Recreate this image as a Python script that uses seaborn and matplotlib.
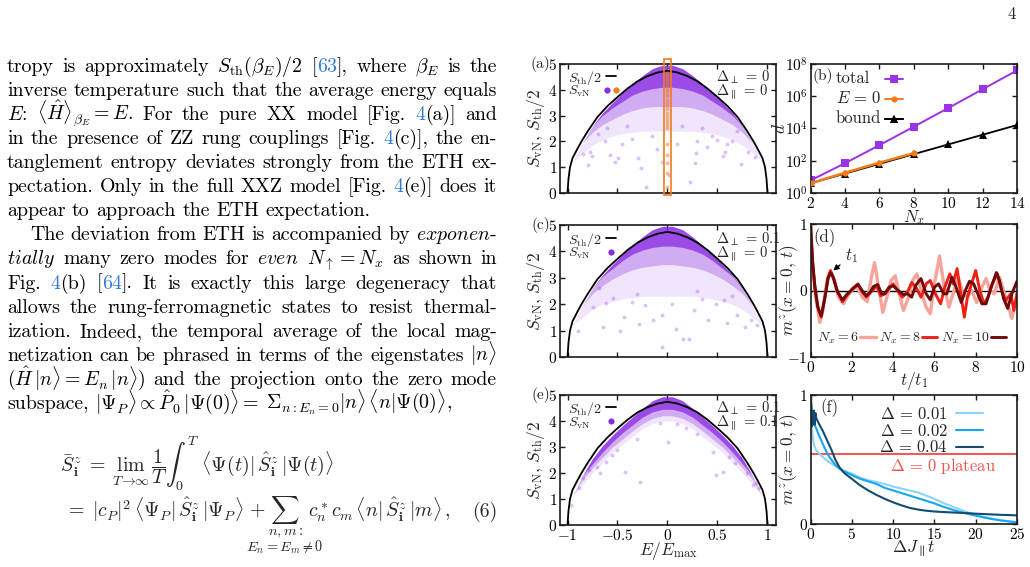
"""
page fragment: text column on the left, six entanglement / dynamics panels on the right
"""

import matplotlib
matplotlib.use("Agg")
import matplotlib.pyplot as plt
import seaborn as sns
from matplotlib.lines import Line2D
from matplotlib.patches import Rectangle
from matplotlib.legend_handler import HandlerTuple

# ---------------- data ----------------
# thermal curve S_th/2 vs E/E_max (same in a, c, e)
E_th = [-1.0, -0.99, -0.975, -0.95, -0.9, -0.86, -0.8, -0.7, -0.6, -0.5, -0.4, -0.3, -0.2, -0.1, 0.0,
        0.1, 0.2, 0.3, 0.4, 0.5, 0.6, 0.7, 0.8, 0.86, 0.9, 0.95, 0.975, 0.99, 1.0]
S_th = [0.0, 0.55, 1.0, 1.35, 1.72, 2.0, 2.38, 2.95, 3.37, 3.72, 4.05, 4.33, 4.53, 4.67, 4.74,
        4.67, 4.53, 4.33, 4.05, 3.72, 3.37, 2.95, 2.38, 2.0, 1.72, 1.35, 1.0, 0.55, 0.0]

# eigenstate clouds: top edge and lower edges of the light / medium / dense parts
E_band = [-0.95, -0.85, -0.75, -0.65, -0.55, -0.45, -0.35, -0.25, -0.15, -0.05,
          0.05, 0.15, 0.25, 0.35, 0.45, 0.55, 0.65, 0.75, 0.85, 0.95]
top_a = [1.2, 1.95, 2.6, 3.1, 3.5, 3.88, 4.22, 4.55, 4.82, 4.95, 4.95, 4.82, 4.55, 4.22, 3.88, 3.5, 3.1, 2.6, 1.95, 1.2]
light_a = [1.2, 1.55, 1.85, 2.05, 2.2, 2.3, 2.35, 2.4, 2.4, 2.4, 2.4, 2.4, 2.4, 2.35, 2.3, 2.2, 2.05, 1.85, 1.55, 1.2]
mid_a = [1.2, 1.95, 2.35, 2.65, 2.85, 3.05, 3.2, 3.3, 3.35, 3.35, 3.35, 3.35, 3.3, 3.2, 3.05, 2.85, 2.65, 2.35, 1.95, 1.2]
dense_a = [1.2, 1.95, 2.6, 3.0, 3.3, 3.55, 3.8, 3.95, 4.05, 4.1, 4.1, 4.05, 3.95, 3.8, 3.55, 3.3, 3.0, 2.6, 1.95, 1.2]

top_c = [1.2, 1.95, 2.6, 3.1, 3.5, 3.88, 4.22, 4.55, 4.82, 4.95, 4.95, 4.82, 4.55, 4.22, 3.88, 3.5, 3.1, 2.6, 1.95, 1.2]
light_c = [1.2, 1.5, 1.8, 2.0, 2.1, 2.2, 2.25, 2.3, 2.3, 2.3, 2.3, 2.3, 2.3, 2.25, 2.2, 2.1, 2.0, 1.8, 1.5, 1.2]
mid_c = [1.2, 1.95, 2.4, 2.7, 2.95, 3.15, 3.3, 3.4, 3.45, 3.5, 3.5, 3.45, 3.4, 3.3, 3.15, 2.95, 2.7, 2.4, 1.95, 1.2]
dense_c = [1.2, 1.95, 2.6, 3.05, 3.35, 3.65, 3.9, 4.05, 4.15, 4.2, 4.2, 4.15, 4.05, 3.9, 3.65, 3.35, 3.05, 2.6, 1.95, 1.2]

top_e = [1.1, 1.9, 2.55, 3.05, 3.45, 3.82, 4.15, 4.48, 4.78, 4.93, 4.93, 4.78, 4.48, 4.15, 3.82, 3.45, 3.05, 2.55, 1.9, 1.1]
light_e = [1.1, 1.55, 2.0, 2.4, 2.8, 3.1, 3.4, 3.7, 3.9, 4.0, 4.0, 3.9, 3.7, 3.4, 3.1, 2.8, 2.4, 2.0, 1.55, 1.1]
mid_e = [1.1, 1.75, 2.2, 2.6, 3.0, 3.3, 3.62, 3.9, 4.1, 4.2, 4.2, 4.1, 3.9, 3.62, 3.3, 3.0, 2.6, 2.2, 1.75, 1.1]
dense_e = [1.1, 1.9, 2.35, 2.8, 3.2, 3.55, 3.85, 4.15, 4.35, 4.45, 4.45, 4.35, 4.15, 3.85, 3.55, 3.2, 2.8, 2.35, 1.9, 1.1]

# sparse eigenstates below the clouds
sparse_a_E = [-0.78, -0.80, -0.575, -0.52, -0.49, -0.29, -0.26, -0.21, 0.225, 0.285, 0.275, 0.56, 0.575, 0.74,
              0.81, -0.76, -0.62, -0.45, -0.35, -0.1, 0.1, 0.4, 0.5, 0.65, -0.7, 0.7, -0.15, 0.15, -0.4, 0.35,
              0.6, -0.6, 0.02, -0.05, 0.45, -0.85, 0.88, 0.3]
sparse_a_S = [1.6, 1.08, 1.47, 1.22, 1.34, 1.34, 0.95, 0.25, 0.41, 1.54, 1.15, 1.43, 1.6, 1.12,
              1.6, 1.43, 2.0, 1.9, 2.1, 1.7, 1.9, 1.8, 2.05, 2.0, 2.3, 2.4, 2.2, 2.6, 2.6, 2.5,
              1.9, 2.5, 0.7, 1.2, 2.2, 1.5, 1.4, 2.0]
sparse_c_E = [-0.61, -0.54, -0.43, -0.28, -0.22, -0.14, -0.055, 0.16, 0.27, 0.41, 0.49, 0.57, 0.78, 0.84,
              -0.64, -0.475, 0.09, 0.22, -0.75, -0.35, 0.35, 0.65, -0.05, 0.05, -0.3, 0.3, 0.7, -0.68,
              0.6, -0.9, 0.9]
sparse_c_S = [2.03, 2.22, 1.52, 1.26, 1.96, 1.39, 0.38, 0.7, 1.77, 1.39, 2.02, 2.15, 1.14, 1.39,
              1.13, 1.0, 1.07, 0.7, 1.9, 2.1, 2.2, 2.3, 1.6, 2.0, 2.4, 2.5, 1.6, 2.6,
              1.3, 1.0, 1.2]
sparse_e_E = [-0.79, -0.71, -0.675, -0.425, -0.275, -0.075, 0.008, 0.19, 0.49, 0.555, 0.74, 0.86, 0.89, 0.92,
              -0.97, -0.89, -0.61, 0.46, -0.5, 0.3, 0.62, -0.85, 0.8, -0.3, 0.1, -0.55, 0.68]
sparse_e_S = [2.12, 2.24, 1.99, 2.05, 1.67, 3.91, 3.2, 3.72, 1.92, 2.05, 2.56, 1.54, 1.6, 1.41,
              0.77, 1.41, 2.44, 2.82, 2.9, 3.5, 2.6, 1.8, 2.0, 3.3, 3.9, 2.7, 2.4]

# zero-energy states in (a)
zero_E = [0.0, 0.0, 0.0, 0.0, 0.0, 0.0, 0.0, 0.0, 0.0, 0.0, 0.0, 0.0, 0.0, 0.0, 0.0, 0.0, 0.0, 0.0, 0.0, 0.0,
          0.0, 0.0, 0.0, 0.0, 0.0, 0.0, 0.0]
zero_S = [4.75, 4.66, 4.58, 4.5, 4.42, 4.34, 4.25, 4.15, 4.05, 3.95, 3.85, 3.75, 3.62, 3.5, 3.38, 3.25, 3.12,
          3.0, 2.88, 2.75, 2.62, 2.5, 1.9, 1.47, 1.15, 0.76, 0.25]

# (b) dimensions
Nx = [2, 4, 6, 8, 10, 12, 14]
d_total = [6, 70, 924, 12870, 184756, 2704156, 40116600]
Nx_e0 = [2, 4, 6, 8]
d_e0 = [4, 18, 76, 294]
d_bound = [4, 16, 64, 256, 1024, 4096, 16384]

# (d) m^z(x=0,t) vs t/t1, extrema of the traces
t6 = [0, 0.1, 0.25, 0.45, 0.6, 0.8, 0.97, 1.15, 1.35, 1.6, 1.8, 2.0, 2.25, 2.5, 2.75, 2.95, 3.1, 3.3, 3.5,
      3.7, 3.9, 4.1, 4.3, 4.5, 4.75, 4.95, 5.15, 5.4, 5.6, 5.8, 6.0, 6.25, 6.45, 6.7, 6.9, 7.15, 7.35, 7.6,
      7.8, 8.05, 8.3, 8.5, 8.7, 8.9, 9.15, 9.35, 9.55, 9.75, 9.9, 10.0]
m6 = [1.0, 0.4, -0.1, -0.48, -0.3, 0.15, 0.27, 0.15, -0.1, -0.2, -0.08, 0.0, 0.06, -0.1, -0.17, 0.2, 0.42,
      0.05, -0.33, -0.1, 0.15, 0.22, -0.05, -0.3, -0.1, 0.15, 0.25, -0.05, -0.25, -0.35, 0.1, 0.52, 0.1,
      -0.25, -0.05, 0.2, 0.0, -0.1, 0.0, -0.18, 0.05, 0.18, 0.0, -0.05, 0.2, 0.0, -0.2, -0.42, -0.2, -0.05]
t8 = [0, 0.1, 0.22, 0.4, 0.52, 0.7, 0.85, 0.97, 1.1, 1.3, 1.55, 1.75, 2.0, 2.3, 2.5, 2.7, 3.0, 3.2, 3.4,
      3.6, 3.8, 4.0, 4.25, 4.45, 4.7, 4.9, 5.1, 5.35, 5.6, 5.8, 6.05, 6.3, 6.5, 6.75, 6.9, 7.1, 7.25, 7.45,
      7.6, 7.8, 8.0, 8.2, 8.4, 8.6, 8.8, 9.05, 9.25, 9.45, 9.7, 9.85, 10.0]
m8 = [1.0, 0.42, 0.0, -0.3, -0.4, -0.1, 0.2, 0.3, 0.2, 0.0, -0.17, -0.08, 0.02, 0.1, -0.02, -0.1, 0.0,
      0.07, -0.08, -0.05, 0.02, 0.1, -0.02, -0.1, -0.02, 0.12, 0.05, -0.1, 0.1, 0.15, -0.05, -0.2, 0.05,
      0.25, 0.1, 0.33, 0.0, -0.4, -0.1, 0.1, 0.3, 0.0, -0.2, -0.1, 0.1, 0.25, 0.0, -0.15, -0.05, -0.3, -0.05]
t10 = [0, 0.1, 0.2, 0.35, 0.52, 0.7, 0.85, 0.97, 1.1, 1.3, 1.55, 1.75, 1.9, 2.1, 2.3, 2.5, 2.7, 2.9, 3.05,
       3.25, 3.45, 3.6, 3.8, 4.0, 4.25, 4.5, 4.7, 4.9, 5.1, 5.35, 5.6, 5.8, 6.0, 6.2, 6.45, 6.6, 6.85, 7.05,
       7.3, 7.5, 7.7, 7.9, 8.1, 8.3, 8.5, 8.75, 9.0, 9.15, 9.35, 9.55, 9.75, 10.0]
m10 = [1.0, 0.45, 0.1, -0.25, -0.38, -0.1, 0.18, 0.27, 0.2, -0.02, -0.14, -0.06, -0.02, 0.04, 0.09, 0.0,
       -0.08, -0.02, 0.06, 0.09, -0.05, -0.05, 0.05, 0.07, 0.0, -0.06, -0.05, -0.1, 0.08, 0.18, -0.05,
       -0.14, 0.05, 0.1, -0.05, -0.05, 0.2, 0.05, -0.18, 0.0, 0.14, 0.1, -0.05, -0.2, -0.2, 0.05, 0.27,
       0.15, -0.12, -0.27, -0.05, 0.14]

# (f) decay of m^z for three anisotropies
tf_004 = [0, 0.1, 0.2, 0.3, 0.4, 0.5, 0.6, 0.7, 0.85, 1, 1.5, 2, 2.5, 3, 3.5, 4, 5, 6, 7, 8, 9, 10, 11, 12,
          13, 14, 15, 16, 17, 18, 19, 20, 21, 22, 23, 24, 25]
mf_004 = [1.0, 0.93, 0.76, 0.86, 0.88, 0.77, 0.86, 0.82, 0.8, 0.78, 0.72, 0.65, 0.58, 0.5, 0.44, 0.4,
          0.35, 0.3, 0.26, 0.225, 0.195, 0.168, 0.145, 0.125, 0.112, 0.103, 0.097, 0.093, 0.09, 0.087,
          0.084, 0.08, 0.077, 0.074, 0.071, 0.069, 0.067]
tf_002 = [0, 0.1, 0.2, 0.3, 0.4, 0.5, 0.7, 1, 1.5, 2, 2.5, 3, 3.5, 4, 5, 6, 7, 8, 9, 10, 11, 12, 13, 14,
          15, 16, 17, 18, 19, 20, 21, 22, 23, 24, 25]
mf_002 = [1.0, 0.9, 0.8, 0.85, 0.79, 0.77, 0.74, 0.69, 0.62, 0.55, 0.5, 0.46, 0.43, 0.41, 0.38, 0.35,
          0.33, 0.31, 0.28, 0.26, 0.24, 0.22, 0.2, 0.18, 0.16, 0.135, 0.115, 0.095, 0.08, 0.065, 0.05,
          0.038, 0.028, 0.02, 0.014]
tf_001 = [0, 0.1, 0.2, 0.3, 0.4, 0.5, 0.7, 1, 1.5, 2, 2.5, 3, 3.5, 4, 5, 6, 7, 8, 9, 10, 11, 12, 13, 14,
          15, 16, 17, 18, 19, 20, 21, 22, 23, 24, 25]
mf_001 = [1.0, 0.85, 0.72, 0.66, 0.62, 0.6, 0.57, 0.55, 0.52, 0.49, 0.47, 0.45, 0.43, 0.415, 0.39, 0.36,
          0.34, 0.325, 0.31, 0.29, 0.275, 0.26, 0.245, 0.22, 0.195, 0.165, 0.14, 0.115, 0.09, 0.07, 0.055,
          0.042, 0.03, 0.02, 0.013]
plateau = 0.54

PURPLE = "#8a2be2"
LINE_PURPLE = "#9a32e6"
ORANGE = "#f07d1a"
BLUE_REF = "#2e7bd6"
PINK, RED, DARKRED = "#f6a39b", "#ee2015", "#6e0b0b"
SKY1, SKY2, SKY3 = "#8dd3f6", "#16a6ee", "#134c70"
PLATEAU_RED = "#f0564e"

# ---------------- style ----------------
sns.set_theme(style="ticks")
plt.rcParams["font.family"] = "cmr10"
plt.rcParams["mathtext.fontset"] = "cm"
plt.rcParams["axes.formatter.use_mathtext"] = True
plt.rcParams["axes.edgecolor"] = "#1a1a1a"
plt.rcParams["axes.linewidth"] = 1.2

W, H = 1030, 567
fig = plt.figure(figsize=(W / 100, H / 100), dpi=100)
fig.patch.set_facecolor("white")

TICK = 11
LAB = 12.5
LEG = 11.5


def rect(l, t, r, b):
    return [l / W, 1 - b / H, (r - l) / W, (b - t) / H]


def style_axis(ax):
    ax.tick_params(direction="in", top=True, right=True, length=3.5, width=1,
                   labelsize=TICK, pad=2, colors="#1a1a1a", labelcolor="black")
    ax.minorticks_off()


def place_ylabel(ax, text, x):
    ax.set_ylabel(text, fontsize=LAB)
    ax.yaxis.set_label_coords(x, 0.5)
    ax.yaxis.label.set_va("center")


def place_xlabel(ax, text, y):
    ax.set_xlabel(text, fontsize=LAB)
    ax.xaxis.set_label_coords(0.5, y)
    ax.xaxis.label.set_va("center")


def key(ax, handle, x, y, length, size):
    # one legend key (no text) whose left edge sits at axes point (x, y)
    leg = ax.legend([handle], [""], loc="center left", bbox_to_anchor=(x, y), frameon=False,
                    handlelength=length, handletextpad=0, borderpad=0, borderaxespad=0, fontsize=size,
                    handler_map={tuple: HandlerTuple(ndivide=None, pad=0.35)})
    ax.add_artist(leg)


# ---------------- entropy panels ----------------
def entropy_panel(ax, top, light, mid, dense, sp_E, sp_S, tag, dperp, dpar, with_zero=False):
    ax.fill_between(E_band, light, top, color=PURPLE, alpha=0.12, lw=0)
    ax.fill_between(E_band, mid, top, color=PURPLE, alpha=0.3, lw=0)
    ax.fill_between(E_band, dense, top, color=PURPLE, alpha=0.75, lw=0)
    sns.scatterplot(x=sp_E, y=sp_S, ax=ax, color=PURPLE, alpha=0.28, s=8, linewidth=0, legend=False)
    if with_zero:
        sns.scatterplot(x=zero_E, y=zero_S, ax=ax, color=ORANGE, alpha=0.5, s=8, linewidth=0, legend=False)
    sns.lineplot(x=E_th, y=S_th, ax=ax, color="black", lw=1.3)
    ax.set_xlim(-1.075, 1.085)
    ax.set_ylim(0, 5)
    style_axis(ax)
    ax.set_xticks([-1, -0.5, 0, 0.5, 1])
    ax.set_yticks([0, 1, 2, 3, 4, 5])
    ax.set_yticklabels(["$0$", "$1$", "$2$", "$3$", "$4$", "$5$"], fontsize=TICK)
    ax.set_xlabel("")
    place_ylabel(ax, r"$S_{\mathrm{vN}},\,S_{\mathrm{th}}/2$", -0.11)
    ax.text(-0.045, 1.0, tag, transform=ax.transAxes, ha="right", va="center", fontsize=TICK)

    ax.text(0.038, 0.89, r"$S_{\mathrm{th}}/2$", transform=ax.transAxes, va="center", fontsize=LEG - 1.5)
    ax.text(0.038, 0.785, r"$S_{\mathrm{vN}}$", transform=ax.transAxes, va="center", fontsize=LEG - 1.5)
    key(ax, Line2D([], [], color="black", lw=1.3), 0.213, 0.893, 0.75, LEG - 1.5)
    if with_zero:
        dots = (Line2D([], [], ls="", marker="o", color=PURPLE, ms=4.2, mew=0),
                Line2D([], [], ls="", marker="o", color=ORANGE, ms=4.2, mew=0))
        key(ax, dots, 0.205, 0.785, 1.0, LEG - 1.5)
    else:
        key(ax, Line2D([], [], ls="", marker="o", color=PURPLE, ms=4.2, mew=0), 0.213, 0.785, 0.75, LEG - 1.5)
    ax.text(0.724, 0.895, r"$\Delta_{\perp}\,=\,%s$" % dperp, transform=ax.transAxes, va="center", fontsize=LEG - 1)
    ax.text(0.724, 0.785, r"$\Delta_{\parallel}\,=\,%s$" % dpar, transform=ax.transAxes, va="center", fontsize=LEG - 1)


ax_a = fig.add_axes(rect(560, 64, 776, 193))
entropy_panel(ax_a, top_a, light_a, mid_a, dense_a, sparse_a_E, sparse_a_S, "(a)", "0", "0", with_zero=True)
ax_a.add_patch(Rectangle((-0.03, -0.08), 0.07, 5.26, fill=False, edgecolor=ORANGE, lw=1.2,
                         clip_on=False, zorder=5))
ax_a.set_xticklabels([])

ax_c = fig.add_axes(rect(560, 225, 776, 357))
entropy_panel(ax_c, top_c, light_c, mid_c, dense_c, sparse_c_E, sparse_c_S, "(c)", "0.1", "0")
ax_c.set_xticklabels([])

ax_e = fig.add_axes(rect(560, 395, 776, 525))
entropy_panel(ax_e, top_e, light_e, mid_e, dense_e, sparse_e_E, sparse_e_S, "(e)", "0.1", "0.1")
ax_e.set_xticklabels(["$-1$", "$-0.5$", "$0$", "$0.5$", "$1$"], fontsize=TICK)
place_xlabel(ax_e, r"$E/E_{\max}$", -0.2)

# ---------------- (b) ----------------
ax_b = fig.add_axes(rect(810.5, 64, 1017, 193))
sns.lineplot(x=Nx, y=d_total, ax=ax_b, color=LINE_PURPLE, lw=1.4, marker="s", markersize=5.5,
             markeredgewidth=0, legend=False)
sns.lineplot(x=Nx_e0, y=d_e0, ax=ax_b, color=ORANGE, lw=1.8, marker="o", markersize=4.5,
             markeredgewidth=0, zorder=4, legend=False)
sns.lineplot(x=Nx, y=d_bound, ax=ax_b, color="black", lw=1.3, marker="^", markersize=5.5,
             markeredgewidth=0, zorder=3, legend=False)
ax_b.set_yscale("log")
ax_b.set_xlim(2, 14)
ax_b.set_ylim(1, 1e8)
style_axis(ax_b)
ax_b.set_xticks([2, 4, 6, 8, 10, 12, 14])
ax_b.set_xticklabels(["$2$", "$4$", "$6$", "$8$", "$10$", "$12$", "$14$"], fontsize=TICK)
ax_b.set_yticks([1, 1e2, 1e4, 1e6, 1e8])
ax_b.set_yticklabels(["$10^0$", "$10^2$", "$10^4$", "$10^6$", "$10^8$"], fontsize=TICK)
ax_b.yaxis.set_minor_locator(matplotlib.ticker.NullLocator())
place_xlabel(ax_b, r"$N_x$", -0.19)
place_ylabel(ax_b, r"$d$", -0.15)
b_rows = [("total", LINE_PURPLE, "s", 5.5, 0.885), (r"$E\,=\,0$", ORANGE, "o", 4.5, 0.734),
          ("bound", "black", "^", 5.5, 0.579)]
for lab, col, mk, ms, yy in b_rows:
    ax_b.text(0.122, yy, lab, transform=ax_b.transAxes, va="center", fontsize=LEG + 0.5)
    key(ax_b, Line2D([], [], color=col, lw=1.4, marker=mk, ms=ms, mew=0), 0.36, yy - 0.012, 1.1, LEG + 0.5)
ax_b.text(0.012, 0.91, "(b)", transform=ax_b.transAxes, ha="left", va="center", fontsize=TICK)

# ---------------- (d) ----------------
ax_d = fig.add_axes(rect(810.5, 224, 1017, 357))
ax_d.axhline(0, color="black", lw=1.0, zorder=1)
sns.lineplot(x=t6, y=m6, ax=ax_d, color=PINK, lw=2.4, label=r"$N_x=6$")
sns.lineplot(x=t8, y=m8, ax=ax_d, color=RED, lw=2.1, label=r"$N_x=8$")
sns.lineplot(x=t10, y=m10, ax=ax_d, color=DARKRED, lw=2.1, label=r"$N_x=10$")
ax_d.set_xlim(0, 10)
ax_d.set_ylim(-1, 1)
style_axis(ax_d)
ax_d.set_xticks([0, 2, 4, 6, 8, 10])
ax_d.set_xticklabels(["$0$", "$2$", "$4$", "$6$", "$8$", "$10$"], fontsize=TICK)
ax_d.set_yticks([-1, 0, 1])
ax_d.set_yticklabels(["$-1$", "$0$", "$1$"], fontsize=TICK)
place_xlabel(ax_d, r"$t/t_1$", -0.18)
place_ylabel(ax_d, r"$m^z(x=0,\,t)$", -0.104)
ax_d.legend(loc="center", bbox_to_anchor=(0.49, 0.14), ncol=3, frameon=False, markerfirst=False,
            fontsize=LEG - 1.5, handlelength=1.1, handletextpad=0.1, columnspacing=0.25, borderpad=0.1)
ax_d.annotate(r"$t_1$", xy=(1.1, 0.3), xytext=(2.0, 0.53), fontsize=LEG + 0.5, ha="center", va="center",
              arrowprops=dict(arrowstyle="-|>", color="black", lw=1.0, mutation_scale=8,
                              shrinkA=2, shrinkB=0))
ax_d.text(0.015, 0.9, "(d)", transform=ax_d.transAxes, ha="left", va="center", fontsize=TICK + 1)

# ---------------- (f) ----------------
ax_f = fig.add_axes(rect(810.5, 395, 1017, 524))
ax_f.axhline(plateau, color=PLATEAU_RED, lw=1.4, zorder=1)
sns.lineplot(x=tf_001, y=mf_001, ax=ax_f, color=SKY1, lw=1.5, label=r"$\Delta\,=\,0.01$")
sns.lineplot(x=tf_002, y=mf_002, ax=ax_f, color=SKY2, lw=1.5, label=r"$\Delta\,=\,0.02$")
sns.lineplot(x=tf_004, y=mf_004, ax=ax_f, color=SKY3, lw=1.5, label=r"$\Delta\,=\,0.04$")
ax_f.set_xlim(0, 25)
ax_f.set_ylim(0, 1)
style_axis(ax_f)
ax_f.set_xticks([0, 5, 10, 15, 20, 25])
ax_f.set_xticklabels(["$0$", "$5$", "$10$", "$15$", "$20$", "$25$"], fontsize=TICK)
ax_f.set_yticks([0, 1])
ax_f.set_yticklabels(["$0$", "$1$"], fontsize=TICK)
place_xlabel(ax_f, r"$\Delta J_{\parallel}t$", -0.19)
place_ylabel(ax_f, r"$m^z(x=0,\,t)$", -0.104)
ax_f.legend(loc="upper right", bbox_to_anchor=(0.9, 1.02), frameon=False, markerfirst=False,
            fontsize=LEG + 0.5, handlelength=1.6, handletextpad=0.5, labelspacing=0.05, borderpad=0.3)
ax_f.text(16.1, 0.45, r"$\Delta\,=\,0\ \mathrm{plateau}$", color=PLATEAU_RED, fontsize=LEG + 0.5,
          ha="center", va="center")
ax_f.text(0.05, 0.9, "(f)", transform=ax_f.transAxes, ha="left", va="center", fontsize=TICK + 1)

# ---------------- text column ----------------
body_lines = [
    (r"tropy is approximately $S_{\mathrm{th}}(\beta_E)/2$ [@63@], where $\beta_E$ is the", 7, True),
    (r"inverse temperature such that the average energy equals", 7, True),
    (r"$E$: $\langle\hat{H}\rangle_{\beta_E}=E$. For the pure XX model [Fig. @4@(a)] and", 7, True),
    (r"in the presence of ZZ rung couplings [Fig. @4@(c)], the en-", 7, True),
    (r"tanglement entropy deviates strongly from the ETH ex-", 7, True),
    (r"pectation. Only in the full XXZ model [Fig. @4@(e)] does it", 7, True),
    (r"appear to approach the ETH expectation.", 7, False),
    (r"The deviation from ETH is accompanied by $\mathit{exponen}$-", 30, True),
    (r"$\mathit{tially}$ many zero modes for $\mathit{even}$ $N_{\uparrow}=N_x$ as shown in", 7, True),
    (r"Fig. @4@(b) [@64@]. It is exactly this large degeneracy that", 7, True),
    (r"allows the rung-ferromagnetic states to resist thermal-", 7, True),
    (r"ization. Indeed, the temporal average of the local mag-", 7, True),
    (r"netization can be phrased in terms of the eigenstates $|n\rangle$", 7, True),
    (r"$(\hat{H}\,|n\rangle=E_n\,|n\rangle)$ and the projection onto the zero mode", 7, True),
    (r"subspace, $|\Psi_P\rangle\propto\hat{P}_0\,|\Psi(0)\rangle=$ ${\Sigma}_{n:E_n=0}|n\rangle\,\langle{n}|\Psi(0)\rangle$,", 7, False),
]
X_RIGHT = 497
renderer = fig.canvas.get_renderer()


def text_w(s, size):
    t = fig.text(0, 0, s, fontsize=size)
    w = t.get_window_extent(renderer=renderer).width
    t.remove()
    return w


def split_tokens(line):
    tokens = []
    for tok in line.split(" "):
        pieces = []
        for k, part in enumerate(tok.split("@")):
            if part:
                pieces.append((part, BLUE_REF if k % 2 else "black"))
        tokens.append(pieces)
    return tokens


def natural_width(line, size):
    toks = split_tokens(line)
    w = sum(text_w(p, size) for pieces in toks for p, _ in pieces)
    return w + (len(toks) - 1) * 0.333 * size * 100 / 72


base = 14.0
BODY = base * 364 / natural_width(body_lines[6][0], base)


def draw_line(line, x0, justify, y_px, size):
    toks = split_tokens(line)
    widths = [[text_w(p, size) for p, _ in pieces] for pieces in toks]
    total = sum(sum(w) for w in widths)
    if justify and len(toks) > 1:
        gap = (X_RIGHT - x0 - total) / (len(toks) - 1)
    else:
        gap = 0.333 * size * 100 / 72
    x = x0
    for pieces, ws in zip(toks, widths):
        for (p, c), w in zip(pieces, ws):
            fig.text(x / W, 1 - y_px / H, p, color=c, fontsize=size, ha="left", va="baseline")
            x += w
        x += gap


for i, (line, x0, justify) in enumerate(body_lines):
    draw_line(line, x0, justify, 71.7 + 24.1 * i, BODY)

# display equation (6)
eqA = r"$\bar{S}^z_{\mathbf{i}}\;=\;\lim_{T\to\infty}\,\dfrac{1}{T}\int_0^T\,\langle\Psi(t)|\,\hat{S}^z_{\mathbf{i}}\,|\Psi(t)\rangle$"
fig.text(60 / W, 1 - 471.7 / H, eqA, fontsize=BODY, ha="left", va="baseline")
eqB1 = r"$=\;|c_P|^2\,\langle\Psi_P|\,\hat{S}^z_{\mathbf{i}}\,|\Psi_P\rangle\,+$"
eqB2 = r"$\sum$"
eqB3 = r"$c^*_n c_m\,\langle n|\,\hat{S}^z_{\mathbf{i}}\,|m\rangle\,,$"
xb = 65
fig.text(xb / W, 1 - 516.7 / H, eqB1, fontsize=BODY, ha="left", va="baseline")
xb += text_w(eqB1, BODY) + 4
wsum = text_w(eqB2, BODY)
fig.text(xb / W, 1 - 516.7 / H, eqB2, fontsize=BODY, ha="left", va="baseline")
fig.text((xb + wsum / 2) / W, 1 - 535.5 / H, r"$n,m{:}$", fontsize=BODY * 0.72, ha="center", va="baseline")
fig.text((xb + wsum / 2) / W, 1 - 552 / H, r"$E_n=E_m\neq0$", fontsize=BODY * 0.72, ha="center", va="baseline")
xb += wsum + 8
fig.text(xb / W, 1 - 516.7 / H, eqB3, fontsize=BODY, ha="left", va="baseline")
fig.text(X_RIGHT / W, 1 - 516.7 / H, "(6)", fontsize=BODY, ha="right", va="baseline")

# page number
fig.text(1012 / W, 1 - 14 / H, "4", fontsize=BODY * 0.85, ha="center", va="center")

fig.savefig("out.png", dpi=100)
